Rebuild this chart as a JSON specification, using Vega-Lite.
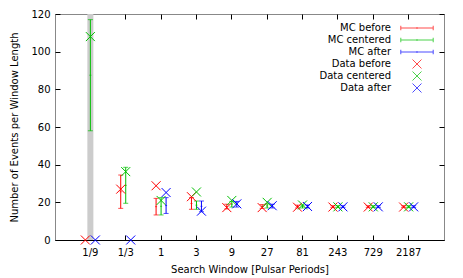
{
  "$schema": "https://vega.github.io/schema/vega-lite/v6.json",
  "width": 389,
  "height": 226,
  "autosize": {"type": "none"},
  "padding": {"left": 55, "top": 14, "right": 19, "bottom": 38},
  "background": "white",
  "config": {
    "view": {"stroke": "#888888", "strokeWidth": 1},
    "font": "DejaVu Sans",
    "axis": {
      "labelFont": "DejaVu Sans", "labelFontSize": 10, "labelColor": "#000000",
      "titleFont": "DejaVu Sans", "titleFontSize": 10, "titleFontWeight": "normal", "titleColor": "#000000",
      "grid": false, "tickColor": "#000000", "domainColor": "#000000", "tickSize": -5, "labelPadding": 12
    },
    "legend": {
      "labelFont": "DejaVu Sans", "labelFontSize": 10, "labelColor": "#000000"
    }
  },
  "datasets": {
    "band": [{"win": "1/9"}],
    "mc": [
      {"win": "1/9", "pos": "centered", "series": "MC centered", "y": 87.5, "lo": 58, "hi": 117},
      {"win": "1/3", "pos": "before", "series": "MC before", "y": 25.6, "lo": 16.8, "hi": 34.5},
      {"win": "1/3", "pos": "centered", "series": "MC centered", "y": 29, "lo": 19.5, "hi": 38.6},
      {"win": "1", "pos": "before", "series": "MC before", "y": 17.7, "lo": 13.3, "hi": 22.1},
      {"win": "1", "pos": "centered", "series": "MC centered", "y": 17.9, "lo": 13.3, "hi": 22.5},
      {"win": "1", "pos": "after", "series": "MC after", "y": 18.3, "lo": 14.1, "hi": 22.5},
      {"win": "3", "pos": "before", "series": "MC before", "y": 19.4, "lo": 16.3, "hi": 22.5},
      {"win": "3", "pos": "centered", "series": "MC centered", "y": 18.5, "lo": 16.3, "hi": 20.7},
      {"win": "3", "pos": "after", "series": "MC after", "y": 17.9, "lo": 15, "hi": 20.7},
      {"win": "9", "pos": "before", "series": "MC before", "y": 17.8, "lo": 16.5, "hi": 19},
      {"win": "9", "pos": "centered", "series": "MC centered", "y": 19, "lo": 17.5, "hi": 20.5},
      {"win": "9", "pos": "after", "series": "MC after", "y": 19, "lo": 17.5, "hi": 20.5},
      {"win": "27", "pos": "before", "series": "MC before", "y": 17.8, "lo": 16.8, "hi": 18.8},
      {"win": "27", "pos": "centered", "series": "MC centered", "y": 18.1, "lo": 17, "hi": 19.2},
      {"win": "27", "pos": "after", "series": "MC after", "y": 18, "lo": 17, "hi": 19},
      {"win": "81", "pos": "before", "series": "MC before", "y": 17.7, "lo": 17, "hi": 18.5},
      {"win": "81", "pos": "centered", "series": "MC centered", "y": 17.8, "lo": 17, "hi": 18.6},
      {"win": "81", "pos": "after", "series": "MC after", "y": 17.8, "lo": 17, "hi": 18.6},
      {"win": "243", "pos": "before", "series": "MC before", "y": 17.7, "lo": 17.2, "hi": 18.2},
      {"win": "243", "pos": "centered", "series": "MC centered", "y": 17.7, "lo": 17.2, "hi": 18.2},
      {"win": "243", "pos": "after", "series": "MC after", "y": 17.7, "lo": 17.2, "hi": 18.2},
      {"win": "729", "pos": "before", "series": "MC before", "y": 17.7, "lo": 17.2, "hi": 18.2},
      {"win": "729", "pos": "centered", "series": "MC centered", "y": 17.7, "lo": 17.2, "hi": 18.2},
      {"win": "729", "pos": "after", "series": "MC after", "y": 17.7, "lo": 17.2, "hi": 18.2},
      {"win": "2187", "pos": "before", "series": "MC before", "y": 17.7, "lo": 17.2, "hi": 18.2},
      {"win": "2187", "pos": "centered", "series": "MC centered", "y": 17.7, "lo": 17.2, "hi": 18.2},
      {"win": "2187", "pos": "after", "series": "MC after", "y": 17.7, "lo": 17.2, "hi": 18.2}
    ],
    "pts": [
      {"win": "1/9", "pos": "before", "series": "Data before", "y": 0},
      {"win": "1/9", "pos": "centered", "series": "Data centered", "y": 108},
      {"win": "1/9", "pos": "after", "series": "Data after", "y": 0},
      {"win": "1/3", "pos": "before", "series": "Data before", "y": 27},
      {"win": "1/3", "pos": "centered", "series": "Data centered", "y": 36.3},
      {"win": "1/3", "pos": "after", "series": "Data after", "y": 0},
      {"win": "1", "pos": "before", "series": "Data before", "y": 28.8},
      {"win": "1", "pos": "centered", "series": "Data centered", "y": 21},
      {"win": "1", "pos": "after", "series": "Data after", "y": 25.2},
      {"win": "3", "pos": "before", "series": "Data before", "y": 23},
      {"win": "3", "pos": "centered", "series": "Data centered", "y": 25.5},
      {"win": "3", "pos": "after", "series": "Data after", "y": 15.3},
      {"win": "9", "pos": "before", "series": "Data before", "y": 17.2},
      {"win": "9", "pos": "centered", "series": "Data centered", "y": 21},
      {"win": "9", "pos": "after", "series": "Data after", "y": 19.2},
      {"win": "27", "pos": "before", "series": "Data before", "y": 17.2},
      {"win": "27", "pos": "centered", "series": "Data centered", "y": 20},
      {"win": "27", "pos": "after", "series": "Data after", "y": 18.2},
      {"win": "81", "pos": "before", "series": "Data before", "y": 17.4},
      {"win": "81", "pos": "centered", "series": "Data centered", "y": 18.6},
      {"win": "81", "pos": "after", "series": "Data after", "y": 17.8},
      {"win": "243", "pos": "before", "series": "Data before", "y": 17.5},
      {"win": "243", "pos": "centered", "series": "Data centered", "y": 17.6},
      {"win": "243", "pos": "after", "series": "Data after", "y": 17.6},
      {"win": "729", "pos": "before", "series": "Data before", "y": 17.5},
      {"win": "729", "pos": "centered", "series": "Data centered", "y": 17.6},
      {"win": "729", "pos": "after", "series": "Data after", "y": 17.6},
      {"win": "2187", "pos": "before", "series": "Data before", "y": 17.5},
      {"win": "2187", "pos": "centered", "series": "Data centered", "y": 17.6},
      {"win": "2187", "pos": "after", "series": "Data after", "y": 17.6}
    ]
  },
  "layer": [
    {
      "data": {"name": "band"},
      "mark": {"type": "rule", "color": "#cccccc", "strokeWidth": 6},
      "encoding": {
        "x": {
          "field": "win", "type": "nominal", "sort": null,
          "scale": {"type": "band", "domain": ["1/9", "1/3", "1", "3", "9", "27", "81", "243", "729", "2187"], "paddingInner": 0.576, "paddingOuter": 0.788},
          "axis": {"orient": "bottom", "title": "Search Window [Pulsar Periods]", "labelAngle": 0, "domain": true, "titlePadding": 7}
        },
        "y": {
          "datum": 0, "type": "quantitative",
          "scale": {"domain": [0, 120], "nice": false, "zero": false},
          "axis": {"orient": "left", "title": "Number of Events per Window Length", "values": [0, 20, 40, 60, 80, 100, 120], "domain": false, "labelPadding": 10, "titlePadding": 11}
        },
        "y2": {"datum": 120}
      }
    },
    {
      "data": {"name": "mc"},
      "mark": {"type": "rule", "strokeWidth": 1},
      "encoding": {
        "x": {"field": "win", "type": "nominal", "sort": null, "axis": {"orient": "top", "labels": false, "title": null, "domain": false}},
        "xOffset": {"field": "pos", "type": "nominal", "scale": {"domain": ["before", "centered", "after"], "paddingInner": 0, "paddingOuter": 0}},
        "y": {"field": "lo", "type": "quantitative", "axis": {"orient": "right", "labels": false, "title": null, "domain": false, "values": [0, 20, 40, 60, 80, 100, 120]}},
        "y2": {"field": "hi"},
        "color": {
          "field": "series", "type": "nominal",
          "scale": {"domain": ["MC before", "MC centered", "MC after", "Data before", "Data centered", "Data after"], "range": ["#ff0000", "#00c000", "#0000ff", "#ff0000", "#00c000", "#0000ff"]},
          "legend": {"orient": "none", "legendX": 357, "legendY": 9, "title": null, "labelAlign": "right", "labelOffset": -31, "rowPadding": -5, "gridAlign": "all", "symbolSize": 81, "symbolStrokeWidth": 1}
        }
      }
    },
    {
      "data": {"name": "mc"},
      "mark": {"type": "tick", "size": 5, "thickness": 1},
      "encoding": {
        "x": {"field": "win", "type": "nominal", "sort": null, "axis": null},
        "xOffset": {"field": "pos", "type": "nominal"},
        "y": {"field": "lo", "type": "quantitative", "axis": null},
        "color": {"field": "series", "type": "nominal"}
      }
    },
    {
      "data": {"name": "mc"},
      "mark": {"type": "tick", "size": 5, "thickness": 1},
      "encoding": {
        "x": {"field": "win", "type": "nominal", "sort": null, "axis": null},
        "xOffset": {"field": "pos", "type": "nominal"},
        "y": {"field": "hi", "type": "quantitative", "axis": null},
        "color": {"field": "series", "type": "nominal"}
      }
    },
    {
      "data": {"name": "mc"},
      "mark": {"type": "tick", "size": 2, "thickness": 1},
      "encoding": {
        "x": {"field": "win", "type": "nominal", "sort": null, "axis": null},
        "xOffset": {"field": "pos", "type": "nominal"},
        "y": {"field": "y", "type": "quantitative", "axis": null},
        "color": {"field": "series", "type": "nominal"}
      }
    },
    {
      "data": {"name": "pts"},
      "mark": {"type": "point", "filled": false, "strokeWidth": 1, "size": 81, "opacity": 1},
      "encoding": {
        "x": {"field": "win", "type": "nominal", "sort": null, "axis": null},
        "xOffset": {"field": "pos", "type": "nominal"},
        "y": {"field": "y", "type": "quantitative", "axis": null},
        "color": {"field": "series", "type": "nominal"},
        "shape": {
          "field": "series", "type": "nominal",
          "scale": {"domain": ["MC before", "MC centered", "MC after", "Data before", "Data centered", "Data after"], "range": ["M-3.6,-1M-3.6,-0.5V0.5M-3.6,0H3.6M3.6,-0.5V0.5M0,-0.2V0.2M3.6,1", "M-3.6,-1M-3.6,-0.5V0.5M-3.6,0H3.6M3.6,-0.5V0.5M0,-0.2V0.2M3.6,1", "M-3.6,-1M-3.6,-0.5V0.5M-3.6,0H3.6M3.6,-0.5V0.5M0,-0.2V0.2M3.6,1", "M-3.6,-1M-1,-1L1,1M-1,1L1,-1M3.6,1", "M-3.6,-1M-1,-1L1,1M-1,1L1,-1M3.6,1", "M-3.6,-1M-1,-1L1,1M-1,1L1,-1M3.6,1"]},
          "legend": {"orient": "none", "legendX": 357, "legendY": 9, "title": null, "labelAlign": "right", "labelOffset": -31, "rowPadding": -5, "gridAlign": "all", "symbolSize": 81, "symbolStrokeWidth": 1}
        }
      }
    }
  ],
  "resolve": {"axis": {"x": "independent", "y": "independent"}}
}
